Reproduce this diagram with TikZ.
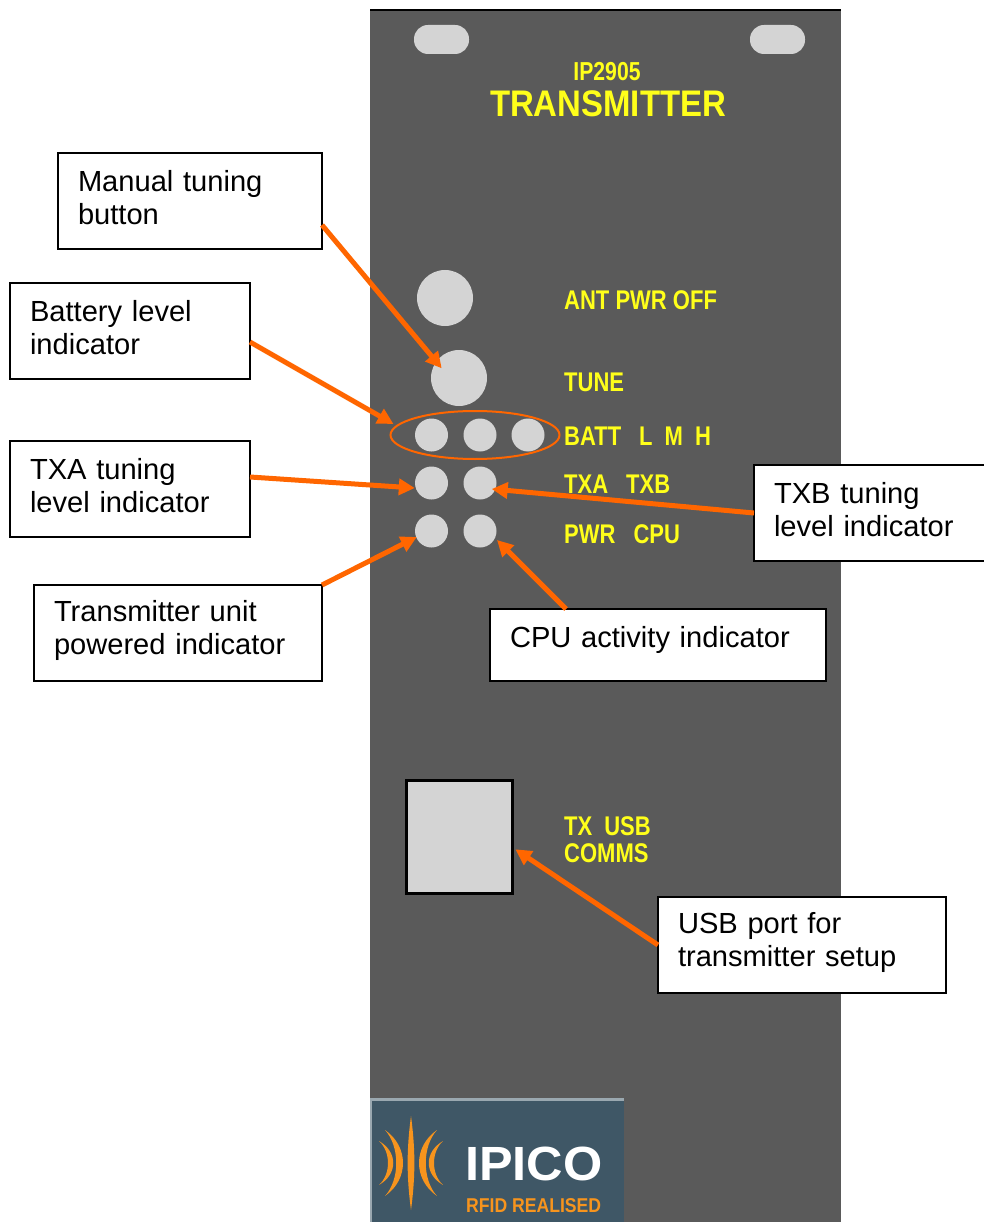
\documentclass[tikz,border=0pt]{standalone}
\usepackage{fontspec}
\setmainfont{Liberation Sans}
\newfontfamily\panelfont[FakeStretch=0.815]{Liberation Sans}
\newfontfamily\titlefont[FakeStretch=0.89]{Liberation Sans}
\newfontfamily\logofont[FakeStretch=0.88]{Liberation Sans}
\newfontfamily\namefont[FakeStretch=1.05]{Liberation Sans}
\usetikzlibrary{arrows.meta,shapes.geometric}
\definecolor{panelgrey}{HTML}{5A5A5A}
\definecolor{ledgrey}{HTML}{D4D4D4}
\definecolor{calloutorange}{HTML}{FF6600}
\definecolor{logoblue}{HTML}{3F5766}
\definecolor{logoedge}{HTML}{9AA8B0}
\definecolor{logoorange}{HTML}{F7941D}
\definecolor{paneltext}{HTML}{FFFF1A}
\tikzset{
	infobox/.style={draw=black,line width=1.5,fill=white,anchor=north west,align=left,inner xsep=20,inner ysep=0,
		outer sep=0,font=\fontsize{29.1}{33}\selectfont,execute at end node={\par\kern#1pt}},
	infobox/.default=6,
	led/.style={circle,fill=ledgrey,inner sep=0,minimum size=#1},
	slot/.style={rounded corners=14,fill=ledgrey,inner sep=0,minimum width=55,minimum height=29},
	paneltag/.style={anchor=west,inner sep=0,text=paneltext,align=left,
		font=\panelfont\bfseries\fontsize{27}{27}\selectfont},
	callout/.style={draw=calloutorange,line width=5,-{Triangle[length=16,width=16]}},
}
\begin{document}
\begin{tikzpicture}[x=1pt,y=-1pt]
	\useasboundingbox (0,0) rectangle (983,1222);
	% panel
	\fill[panelgrey] (370,10) rectangle (841,1222);
	\draw[black,line width=1.5] (370,10) -- (841,10);
	\node[slot] (slotleft) at (441.5,39.5) {};
	\node[slot] (slotright) at (777.5,39.5) {};
	\node[anchor=base,inner sep=0,text=paneltext,font=\panelfont\bfseries\fontsize{26}{26}\selectfont] (model) at (607,81) {IP2905};
	\node[anchor=base,inner sep=0,text=paneltext,font=\titlefont\bfseries\fontsize{37}{37}\selectfont] (title) at (608,117) {TRANSMITTER};
	% buttons and leds
	\node[led=56] (antbtn) at (445,298) {};
	\node[led=56] (tunebtn) at (459,378) {};
	\node[led=33] (battl) at (431.5,435) {};
	\node[led=33] (battm) at (480,435) {};
	\node[led=33] (batth) at (528,435) {};
	\node[led=33] (txaled) at (431.5,483) {};
	\node[led=33] (txbled) at (480,483) {};
	\node[led=33] (pwrled) at (431.5,531) {};
	\node[led=33] (cpuled) at (480,531) {};
	\node[ellipse,draw=calloutorange,line width=2,inner sep=0,minimum width=169,minimum height=48] (battring) at (475,435) {};
	\node[draw=black,line width=3,fill=ledgrey,inner sep=0,minimum width=106.3,minimum height=113] (usbport) at (459.2,836.8) {};
	% panel labels
	\node[paneltag] (anttag) at (564,300) {ANT PWR OFF};
	\node[paneltag] (tunetag) at (564,382) {TUNE};
	\node[paneltag] (batttag) at (564,436) {BATT\hspace{18pt}L\hspace{12pt}M\hspace{12pt}H};
	\node[paneltag] (txtag) at (564,484) {TXA\hspace{18pt}TXB};
	\node[paneltag] (pwrtag) at (564,534) {PWR\hspace{18pt}CPU};
	\node[paneltag] (usbtag) at (564,840) {TX\hspace{12pt}USB\\COMMS};
	% logo
	\fill[logoblue] (370,1098) rectangle (624,1222);
	\fill[logoedge] (370,1098) rectangle (624,1101);
	\fill[logoedge] (370,1098) rectangle (371.5,1222);
	\fill[logoorange] (411,1116) .. controls (406.5,1150) and (406.5,1176) .. (411,1210)
		.. controls (415.5,1176) and (415.5,1150) .. (411,1116) -- cycle;
	\foreach \sx in {-1,1}
		\foreach \tipx/\tipy/\inbend/\outbend in {26/33/2/11, 32/22/13/20}
			\fill[logoorange] (411+\sx*\tipx,1163-\tipy) .. controls (411+\sx*\inbend,1163-\tipy/2) and (411+\sx*\inbend,1163+\tipy/2) .. (411+\sx*\tipx,1163+\tipy)
				.. controls (411+\sx*\outbend,1163+\tipy/2) and (411+\sx*\outbend,1163-\tipy/2) .. (411+\sx*\tipx,1163-\tipy) -- cycle;
	\node[anchor=base west,inner sep=0,text=white,font=\namefont\bfseries\fontsize{48}{48}\selectfont] (logoname) at (465,1180) {IPICO};
	\node[anchor=base west,inner sep=0,text=logoorange,font=\logofont\bfseries\fontsize{20}{20}\selectfont] (logoline) at (466,1212) {RFID REALISED};
	% callout boxes
	\node[infobox,text width=224,minimum height=96] (manualbox) at (58,153) {Manual tuning\\button};
	\node[infobox,text width=200,minimum height=96] (battbox) at (10,283) {Battery level\\indicator};
	\node[infobox,text width=200,minimum height=96] (txabox) at (10,441) {TXA tuning\\level indicator};
	\node[infobox,text width=248,minimum height=96] (pwrbox) at (34,585) {Transmitter unit\\powered indicator};
	\node[infobox=10,text width=296,minimum height=72] (cpubox) at (490,609) {CPU activity indicator};
	\node[infobox,text width=192,minimum height=96] (txbbox) at (754,465) {TXB tuning\\level indicator};
	\node[infobox,text width=248,minimum height=96] (usbbox) at (658,897) {USB port for\\transmitter setup};
	% arrows
	\draw[callout] ([yshift=-24]manualbox.east) -- ([xshift=-17.3,yshift=9.7]tunebtn.center);
	\draw[callout] ([yshift=-11]battbox.east) -- ([xshift=4,yshift=11]battring.west);
	\draw[callout] ([yshift=12]txabox.east) -- ([yshift=-5]txaled.west);
	\draw[callout] (txbbox.west) -- ([xshift=-5,yshift=-6]txbled.east);
	\draw[callout] (pwrbox.north east) -- ([xshift=2,yshift=-6]pwrled.west);
	\draw[callout] ([xshift=-92]cpubox.north) -- ([xshift=17,yshift=-9]cpuled.center);
	\draw[callout] (usbbox.west) -- ([xshift=1.5,yshift=-12.5]usbport.east);
\end{tikzpicture}
\end{document}
